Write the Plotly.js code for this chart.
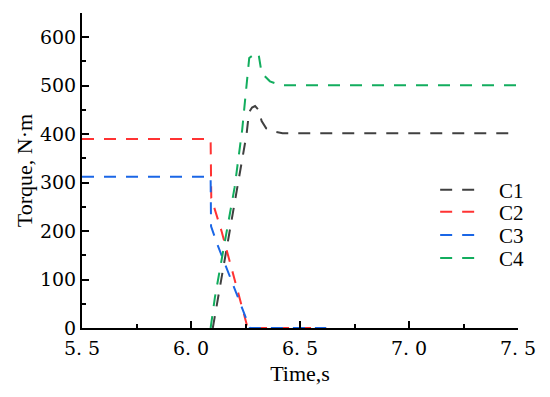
<!DOCTYPE html>
<html>
<head>
<meta charset="utf-8">
<script src="https://cdn.plot.ly/plotly-3.0.1.min.js"></script>
<style>html,body{margin:0;padding:0;background:#fff;}#chart{width:550px;height:397px;}</style>
</head>
<body>
<div id="chart"></div>
<script>
// Series data (time in s, torque in N·m)
var c1_t = [6.10, 6.18, 6.255, 6.266, 6.28, 6.294, 6.31, 6.324, 6.345, 6.385, 6.42, 7.5];
var c1_y = [0, 205, 400, 445, 455, 458, 450, 427, 412, 405, 402, 402];

var c2_t = [5.5, 6.09, 6.093, 6.14, 6.26, 6.62];
var c2_y = [390, 390, 268, 200, 0, 0];

var c3_t = [5.5, 6.09, 6.092, 6.118, 6.27, 6.62];
var c3_y = [312, 312, 210, 176, 0, 0];

var c4_t = [6.09, 6.11, 6.15, 6.20, 6.235, 6.267, 6.285, 6.30, 6.31, 6.324, 6.362, 6.41, 7.5];
var c4_y = [0, 64, 165, 290, 410, 557, 563, 568, 565, 526, 509, 501, 501];

var seriesNames = ['C1', 'C2', 'C3', 'C4'];
var seriesColors = ['#404040', '#ff3333', '#1a66e6', '#12ad5e'];

var xTickVals = [5.5, 6.0, 6.5, 7.0, 7.5];
var xTickText = ['5. 5', '6. 0', '6. 5', '7. 0', '7. 5'];
var yTickVals = [0, 100, 200, 300, 400, 500, 600];
var yTickText = ['0', '100', '200', '300', '400', '500', '600'];

var xs = [c1_t, c2_t, c3_t, c4_t];
var ys = [c1_y, c2_y, c3_y, c4_y];
var legendIds = ['legend', 'legend2', 'legend3', 'legend4'];
var legendYs = [0.438, 0.368, 0.294, 0.221];

var traces = xs.map(function (x, i) {
  return {
    x: x, y: ys[i], type: 'scatter', mode: 'lines',
    name: '\u00a0\u00a0\u00a0' + seriesNames[i],
    legend: legendIds[i],
    line: {color: seriesColors[i], width: 2, dash: '12px,10px'},
    cliponaxis: true
  };
});

var fontFam = '"Liberation Serif", "Times New Roman", serif';
var tickFam = '"DejaVu Serif", "Liberation Serif", serif';

var layout = {
  width: 550, height: 397,
  margin: {l: 82, r: 32, t: 13, b: 69},
  paper_bgcolor: '#ffffff', plot_bgcolor: '#ffffff',
  font: {family: fontFam, size: 22, color: '#000'},
  showlegend: true,
  xaxis: {
    range: [5.5, 7.5],
    tickvals: xTickVals, ticktext: xTickText,
    ticks: 'inside', ticklen: 7, tickwidth: 2, tickcolor: '#000',
    minor: {ticks: 'inside', ticklen: 4, tickwidth: 2, dtick: 0.25, tick0: 5.5, tickcolor: '#000', showgrid: false},
    showline: true, linewidth: 2, linecolor: '#000', mirror: false,
    showgrid: false, zeroline: false,
    ticklabelstandoff: 2,
    tickfont: {family: tickFam, size: 19},
    title: {text: 'Time,s', font: {family: fontFam, size: 22}, standoff: 8}
  },
  yaxis: {
    range: [0, 650],
    tickvals: yTickVals, ticktext: yTickText,
    ticks: 'inside', ticklen: 7, tickwidth: 2, tickcolor: '#000',
    minor: {ticks: 'inside', ticklen: 4, tickwidth: 2, dtick: 50, tick0: 0, tickcolor: '#000', showgrid: false},
    showline: true, linewidth: 2, linecolor: '#000', mirror: false,
    showgrid: false, zeroline: false,
    tickfont: {family: tickFam, size: 19},
    title: {text: 'Torque, N·m', font: {family: fontFam, size: 22}, standoff: 1}
  }
};

legendIds.forEach(function (id, i) {
  layout[id] = {
    x: 0.81, y: legendYs[i], xanchor: 'left', yanchor: 'middle',
    bgcolor: 'rgba(0,0,0,0)', borderwidth: 0, itemwidth: 38,
    font: {family: fontFam, size: 21, color: '#000'}
  };
});

Plotly.newPlot('chart', traces, layout, {displayModeBar: false, staticPlot: true});
</script>
</body>
</html>
